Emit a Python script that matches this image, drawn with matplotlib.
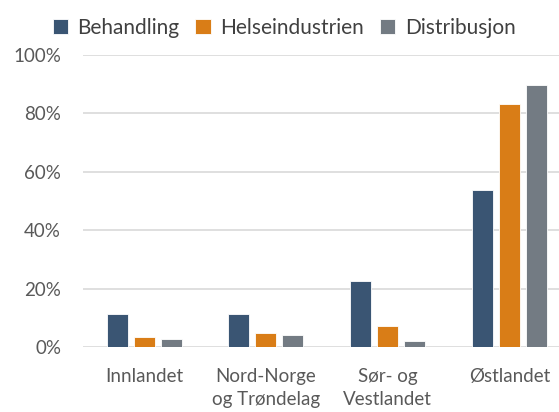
import matplotlib.pyplot as plt
import numpy as np

plt.rcParams['font.family'] = ['Lato', 'DejaVu Sans']

categories = ["Innlandet", "Nord-Norge\nog Trøndelag", "Sør- og\nVestlandet", "Østlandet"]
series = ["Behandling", "Helseindustrien", "Distribusjon"]
behandling = [11.5, 11.4, 22.6, 53.8]
helseindustrien = [3.7, 4.9, 7.4, 83.1]
distribusjon = [2.9, 4.1, 2.2, 89.9]
colors = ["#3a5573", "#d97d17", "#737b83"]

fig = plt.figure(figsize=(5.59, 4.12), dpi=100)
ax = fig.add_axes([0.149, 0.157, 0.871, 0.7095])

x = np.arange(len(categories))
w = 0.173
step = 0.222
for i, (vals, name) in enumerate(zip([behandling, helseindustrien, distribusjon], series)):
    ax.bar(x + (i - 1) * step, np.array(vals) / 100, width=w, color=colors[i],
           edgecolor="white", linewidth=0.6, label=name, zorder=3)

ax.set_xlim(-0.5, 3.5)
ax.set_ylim(0, 1)
ax.set_yticks(np.arange(0, 1.01, 0.2))
ax.set_yticklabels([f"{int(v)}%" for v in np.arange(0, 101, 20)])
ax.set_xticks(x)
ax.set_xticklabels(categories, linespacing=1.45)
ax.grid(axis="y", color="#d9d9d9", linewidth=1.2, zorder=0)
for s in ax.spines.values():
    s.set_visible(False)
ax.tick_params(axis="both", length=0, labelsize=13.5, colors="#595959")
ax.tick_params(axis="y", pad=16)
ax.tick_params(axis="x", pad=15)

fig.legend(loc="center left", bbox_to_anchor=(0.094, 0.932), ncol=3, frameon=False,
           fontsize=15, handlelength=0.75, handleheight=0.75, handletextpad=0.45,
           columnspacing=0.75, labelcolor="#404040", borderaxespad=0, borderpad=0)

fig.savefig("out.png", dpi=100)
